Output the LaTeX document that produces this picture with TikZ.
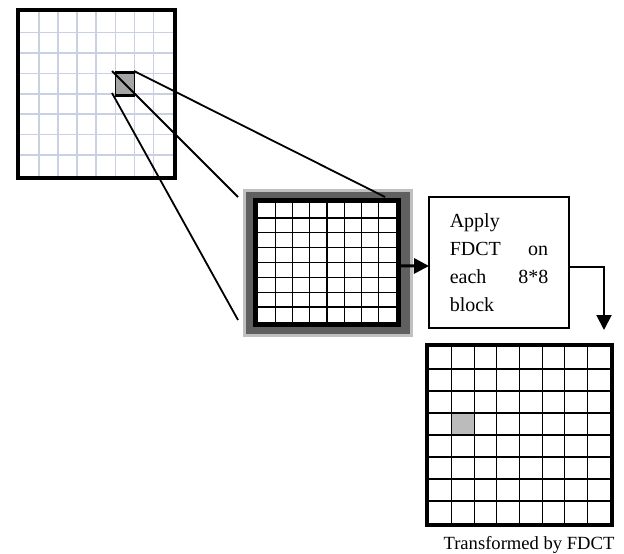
\documentclass[tikz,border=0pt]{standalone}
\usepackage{fontspec}
\setmainfont{Liberation Serif}
\usetikzlibrary{arrows.meta}
\definecolor{gridblue}{RGB}{200,208,226}
\definecolor{lgray}{RGB}{192,192,192}
\definecolor{dgray}{RGB}{96,96,96}
\definecolor{sqgray}{RGB}{165,165,165}
\definecolor{cellgray}{RGB}{187,187,187}
\begin{document}
\begin{tikzpicture}[x=1pt,y=-1pt,
  box/.style={rectangle,inner sep=0pt,outer sep=0pt},
  lightgrid/.style={draw=gridblue,line width=1.5pt},
  darkgrid/.style={draw=black,line width=1.3pt},
  zoomline/.style={draw=black,line width=1.8pt},
  arr/.style={draw=black,-{Triangle[length=15pt,width=15pt]}},
]
\fill[white] (0,0) rectangle (624,554);
\useasboundingbox (0,0) rectangle (624,554);

% ---------- top-left image ----------
\foreach \i in {1,...,7} {
  \draw[lightgrid] ({20+\i*19.06},12) -- ({20+\i*19.06},175.5);
  \draw[lightgrid] (20,{12+\i*20.44}) -- (172.5,{12+\i*20.44});
}
\node[box,draw=black,line width=4pt,minimum width=156.5pt,minimum height=167.5pt] (img) at (96.25,93.75) {};
\node[box,fill=sqgray,minimum width=19pt,minimum height=26pt] (sq) at (124.5,84) {};
\draw[line width=0.8pt] (sq.north west) -- (sq.south west) (sq.north east) -- (sq.south east);
\draw[line width=3.3pt] ([yshift=-1.65pt]sq.north west) -- ([yshift=-1.65pt]sq.north east)
                        ([yshift=1.65pt]sq.south west) -- ([yshift=1.65pt]sq.south east);

% ---------- middle block ----------
\node[box,fill=lgray,minimum width=170pt,minimum height=148pt] (midouter) at (328,263) {};
\node[box,fill=dgray,minimum width=164.5pt,minimum height=142.5pt] (midinner) at (327.75,262.75) {};
\node[box,fill=white,minimum width=143pt,minimum height=123.2pt] (midgrid) at (326.7,262.4) {};
\foreach \i in {1,...,7} {
  \draw[darkgrid] ({258+\i*17.25},203) -- ({258+\i*17.25},322);
  \draw[darkgrid] (258,{203+\i*14.875}) -- (396,{203+\i*14.875});
}
\draw[line width=5pt] (midgrid.north west) rectangle (midgrid.south east);

% ---------- zoom lines ----------
\coordinate (z1s) at (112,71);
\coordinate (z2s) at (134,71);
\coordinate (z3s) at (112,93);
\coordinate (z1e) at (238,197);
\coordinate (z2e) at (385,197);
\coordinate (z3e) at (238,320);
\draw[zoomline] (z1s) -- (z1e);
\draw[zoomline] (z2s) -- (z2e);
\draw[zoomline] (z3s) -- (z3e);

% ---------- process box ----------
\node[box,draw=black,line width=1.5pt,minimum width=140pt,minimum height=131pt,
      text width=98.5pt,align=left,font=\fontsize{20}{28}\selectfont] (proc) at (499,262.5)
  {Apply\\FDCT\hfill on\\each\hfill 8*8\\block};

% ---------- output block ----------
\fill[cellgray] (451.8,413.1) rectangle (474.35,435.0);
\foreach \i in {1,...,7} {
  \draw[draw=black,line width=1.1pt] ({429.2+\i*22.575},347.3) -- ({429.2+\i*22.575},522.7);
  \draw[draw=black,line width=2pt] (429.2,{347.3+\i*21.925}) -- (609.8,{347.3+\i*21.925});
}
\node[box,draw=black,line width=4.5pt,minimum width=185pt,minimum height=180pt] (out) at (519.5,435) {};
\node[anchor=base,inner sep=0pt,font=\fontsize{18.6}{20}\selectfont] (cap) at (529,549) {Transformed by FDCT};

% ---------- arrows ----------
\coordinate (t2) at (604,330);
\draw[arr,line width=3pt] ([yshift=-3.5pt]midgrid.east) -- ([yshift=-3.5pt]proc.west);
\draw[arr,line width=2pt] ([yshift=-4.5pt]proc.east) -| (t2);
\end{tikzpicture}
\end{document}
